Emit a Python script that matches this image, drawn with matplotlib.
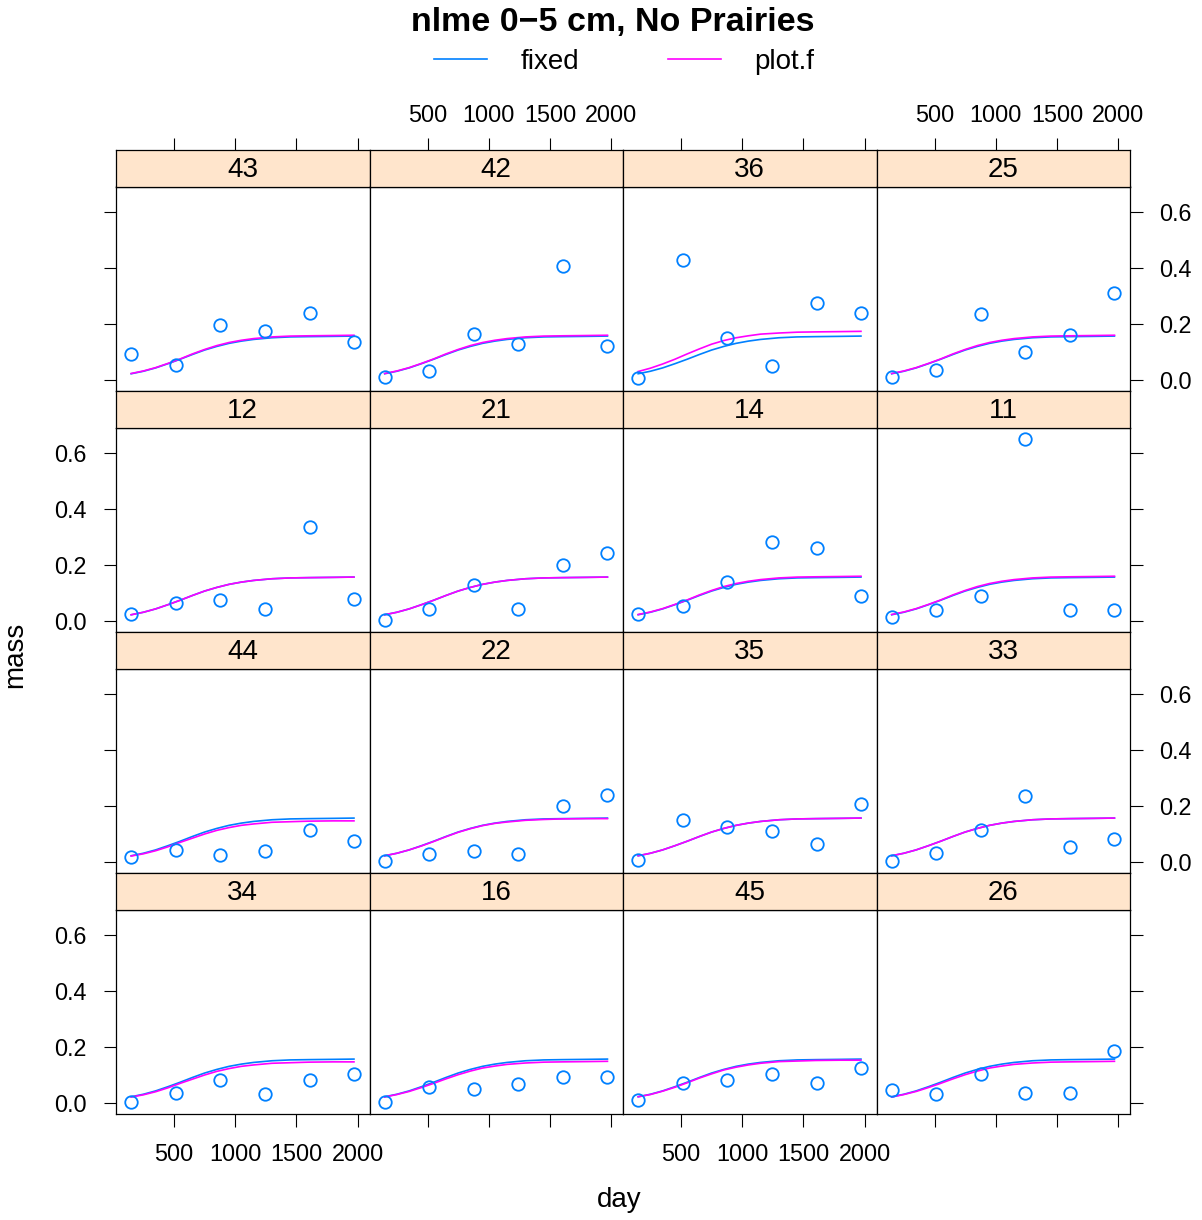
import matplotlib.pyplot as plt
from matplotlib.lines import Line2D

plt.rcParams['font.family'] = ['Liberation Sans', 'DejaVu Sans']

# panels in lattice order, left to right, top to bottom
panel_ids = ['43', '42', '36', '25',
             '12', '21', '14', '11',
             '44', '22', '35', '33',
             '34', '16', '45', '26']

obs_days = [150, 515, 878, 1242, 1607, 1970]
obs_mass = [
    [0.093, 0.051, 0.194, 0.173, 0.240, 0.133],  # 43
    [0.009, 0.031, 0.164, 0.127, 0.408, 0.122],  # 42
    [0.005, 0.430, 0.150, 0.050, 0.275, 0.239],  # 36
    [0.009, 0.036, 0.234, 0.098, 0.159, 0.312],  # 25
    [0.023, 0.064, 0.073, 0.042, 0.336, 0.078],  # 12
    [0.001, 0.042, 0.126, 0.042, 0.198, 0.244],  # 21
    [0.023, 0.053, 0.137, 0.280, 0.259, 0.090],  # 14
    [0.012, 0.037, 0.089, 0.651, 0.037, 0.037],  # 11
    [0.018, 0.042, 0.022, 0.037, 0.114, 0.073],  # 44
    [0.001, 0.027, 0.037, 0.027, 0.198, 0.237],  # 22
    [0.006, 0.150, 0.125, 0.109, 0.064, 0.208],  # 35
    [0.001, 0.032, 0.115, 0.234, 0.053, 0.082],  # 33
    [0.004, 0.035, 0.081, 0.030, 0.081, 0.103],  # 34
    [0.004, 0.055, 0.050, 0.067, 0.092, 0.092],  # 16
    [0.009, 0.071, 0.081, 0.103, 0.071, 0.123],  # 45
    [0.045, 0.030, 0.103, 0.034, 0.034, 0.186],  # 26
]

# fitted curves, evaluated on a common day grid
curve_days = [150, 250, 350, 450, 550, 650, 750, 850, 950, 1050,
              1150, 1300, 1450, 1600, 1800, 1970]
fixed_mass = [0.021, 0.030, 0.042, 0.057, 0.073, 0.090, 0.106, 0.119,
              0.130, 0.138, 0.144, 0.150, 0.153, 0.154, 0.155, 0.156]
plotf_mass = [
    [0.022, 0.031, 0.043, 0.058, 0.074, 0.092, 0.108, 0.122, 0.133, 0.141, 0.147, 0.153, 0.156, 0.157, 0.158, 0.159],  # 43
    [0.022, 0.031, 0.043, 0.058, 0.074, 0.092, 0.108, 0.122, 0.133, 0.141, 0.147, 0.153, 0.156, 0.157, 0.158, 0.159],  # 42
    [0.029, 0.041, 0.056, 0.073, 0.092, 0.110, 0.127, 0.140, 0.150, 0.157, 0.163, 0.167, 0.170, 0.171, 0.172, 0.173],  # 36
    [0.022, 0.031, 0.043, 0.058, 0.074, 0.092, 0.108, 0.122, 0.133, 0.141, 0.147, 0.153, 0.156, 0.157, 0.158, 0.159],  # 25
    [0.021, 0.030, 0.042, 0.057, 0.073, 0.090, 0.106, 0.119, 0.130, 0.138, 0.144, 0.150, 0.153, 0.154, 0.155, 0.156],  # 12
    [0.021, 0.030, 0.042, 0.057, 0.073, 0.090, 0.106, 0.119, 0.130, 0.138, 0.144, 0.150, 0.153, 0.154, 0.155, 0.156],  # 21
    [0.022, 0.031, 0.043, 0.058, 0.074, 0.092, 0.108, 0.122, 0.133, 0.141, 0.147, 0.153, 0.156, 0.157, 0.158, 0.159],  # 14
    [0.022, 0.031, 0.043, 0.058, 0.074, 0.092, 0.108, 0.122, 0.133, 0.141, 0.147, 0.153, 0.156, 0.157, 0.158, 0.159],  # 11
    [0.020, 0.028, 0.039, 0.053, 0.069, 0.084, 0.099, 0.112, 0.122, 0.130, 0.135, 0.141, 0.143, 0.145, 0.146, 0.146],  # 44
    [0.021, 0.030, 0.042, 0.056, 0.072, 0.089, 0.105, 0.118, 0.129, 0.137, 0.142, 0.148, 0.151, 0.153, 0.154, 0.154],  # 22
    [0.021, 0.030, 0.042, 0.057, 0.073, 0.090, 0.106, 0.119, 0.130, 0.138, 0.144, 0.150, 0.153, 0.154, 0.155, 0.156],  # 35
    [0.021, 0.030, 0.042, 0.057, 0.073, 0.090, 0.106, 0.119, 0.130, 0.138, 0.144, 0.150, 0.153, 0.154, 0.155, 0.156],  # 33
    [0.020, 0.028, 0.039, 0.053, 0.069, 0.084, 0.099, 0.112, 0.122, 0.130, 0.135, 0.141, 0.143, 0.145, 0.146, 0.146],  # 34
    [0.020, 0.029, 0.040, 0.054, 0.069, 0.085, 0.100, 0.113, 0.124, 0.131, 0.137, 0.142, 0.145, 0.146, 0.147, 0.148],  # 16
    [0.021, 0.029, 0.041, 0.055, 0.071, 0.088, 0.103, 0.117, 0.127, 0.135, 0.141, 0.147, 0.149, 0.151, 0.152, 0.152],  # 45
    [0.020, 0.029, 0.040, 0.054, 0.069, 0.085, 0.100, 0.113, 0.124, 0.131, 0.137, 0.142, 0.145, 0.146, 0.147, 0.148],  # 26
]

x_ticks = [500, 1000, 1500, 2000]
y_ticks = [0.0, 0.2, 0.4, 0.6]
y_tick_labels = ['0.0', '0.2', '0.4', '0.6']

BLUE = '#0080ff'
MAGENTA = '#ff00ff'
STRIP = '#ffe5cc'

W, H = 1202, 1220
fig = plt.figure(figsize=(W / 100, H / 100), dpi=100)


def box(x, y, w, h):
    # pixel rectangle (top-left origin) -> figure fraction
    return [x / W, 1 - (y + h) / H, w / W, h / H]


col_left, col_w = 116, 253.5
row_top, row_h = 150, 241
strip_h, plot_h = 36.5, 204
xlim = (26, 2097)
ylim = (-0.039, 0.692)

tick_kw = dict(direction='out', length=9, width=0.8, pad=12, labelsize=16.8)

for i, pid in enumerate(panel_ids):
    r, c = divmod(i, 4)
    x0 = col_left + c * col_w
    y0 = row_top + r * row_h

    ax = fig.add_axes(box(x0, y0 + strip_h, col_w, plot_h))
    ax.plot(curve_days, fixed_mass, color=BLUE, lw=1.2)
    ax.plot(curve_days, plotf_mass[i], color=MAGENTA, lw=1.2)
    ax.plot(obs_days, obs_mass[i], 'o', mfc='none', mec=BLUE, ms=9, mew=1.3,
            clip_on=False)
    ax.set_xlim(*xlim)
    ax.set_ylim(*ylim)
    ax.set_xticks(x_ticks)
    ax.set_yticks(y_ticks)
    ax.set_yticklabels(y_tick_labels)
    ax.tick_params(**tick_kw)
    ax.tick_params(left=False, right=False, top=False, bottom=False,
                   labelleft=False, labelright=False,
                   labeltop=False, labelbottom=False)
    if c == 0:
        ax.tick_params(left=True, labelleft=(r % 2 == 1))
    if c == 3:
        ax.tick_params(right=True, labelright=(r % 2 == 0))
    if r == 3:
        ax.tick_params(bottom=True, labelbottom=(c % 2 == 0))
    for sp in ax.spines.values():
        sp.set_linewidth(0.9)

    st = fig.add_axes(box(x0, y0, col_w, strip_h))
    st.set_facecolor(STRIP)
    st.set_xlim(*xlim)
    st.set_ylim(0, 1)
    st.set_yticks([])
    st.set_xticks(x_ticks)
    st.tick_params(**tick_kw)
    st.tick_params(pad=7.5)
    st.tick_params(bottom=False, labelbottom=False, top=False, labeltop=False)
    if r == 0:
        st.tick_params(top=True, labeltop=(c % 2 == 1))
    for sp in st.spines.values():
        sp.set_linewidth(0.9)
    st.text(0.5, 0.45, pid, transform=st.transAxes, ha='center', va='center',
            fontsize=20)

fig.text(613 / W, 1 - 22 / H, 'nlme 0\u22125 cm, No Prairies', ha='center',
         va='center', fontsize=24.5, fontweight='bold')

handles = [Line2D([], [], color=BLUE, lw=1.2), Line2D([], [], color=MAGENTA, lw=1.2)]
fig.legend(handles, ['fixed', 'plot.f'], loc='center', ncol=2, frameon=False,
           bbox_to_anchor=(624 / W, 1 - 62 / H), fontsize=20,
           handlelength=1.9, handletextpad=1.2, columnspacing=3.2)

fig.text(619 / W, 1 - 1200 / H, 'day', ha='center', va='center', fontsize=20)
fig.text(15 / W, 1 - 655 / H, 'mass', ha='center', va='center', fontsize=20,
         rotation=90)

fig.savefig('out.png', dpi=100)
